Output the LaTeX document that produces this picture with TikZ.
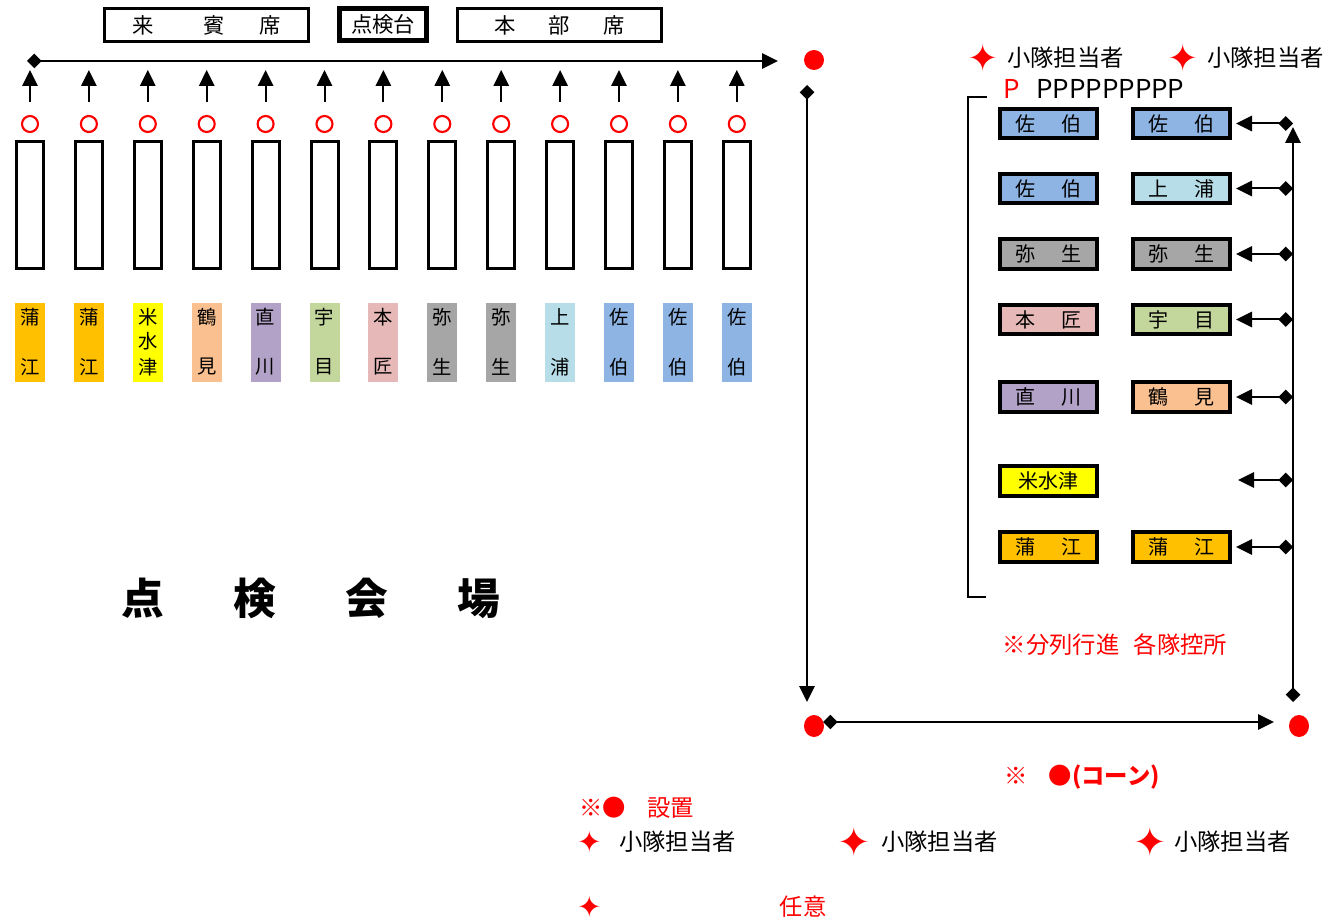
\documentclass[tikz,border=0pt]{standalone}
\usepackage{fontspec}
\setmainfont{Noto Sans CJK JP}
\newfontfamily\symf{DejaVu Sans}
\usetikzlibrary{arrows.meta,shapes.geometric}
\definecolor{cOrange}{HTML}{FFC000}
\definecolor{cYellow}{HTML}{FFFF00}
\definecolor{cPeach}{HTML}{FAC090}
\definecolor{cLav}{HTML}{B3A2C7}
\definecolor{cGreen}{HTML}{C3D69B}
\definecolor{cPink}{HTML}{E6B9B8}
\definecolor{cGray}{HTML}{A6A6A6}
\definecolor{cLBlue}{HTML}{B7DEE8}
\definecolor{cBlue}{HTML}{8EB4E3}
\begin{document}
\begin{tikzpicture}[x=0.75pt,y=-0.75pt,
  seatbox/.style={draw,line width=2.25pt,inner sep=0pt,minimum height=24.75pt,font=\fontsize{16}{16}\selectfont},
  colbox/.style={draw,line width=2.25pt,inner sep=0pt,minimum width=20.25pt,minimum height=95.25pt},
  strip/.style={inner sep=0pt,minimum width=22.5pt,minimum height=59.25pt},
  stripch/.style={inner sep=0pt,font=\fontsize{14.5}{14.5}\selectfont},
  ringm/.style={circle,draw=red,line width=1.6pt,minimum size=12pt,inner sep=0pt},
  reddot/.style={circle,fill=red,inner sep=0pt,minimum size=15pt},
  redell/.style={ellipse,fill=red,inner sep=0pt,minimum width=15pt,minimum height=16.5pt},
  tbox/.style={draw,line width=2.8pt,inner sep=0pt,minimum width=73pt,minimum height=22pt,font=\fontsize{15}{15}\selectfont},
  upar/.style={line width=1.5pt,-{Triangle[width=11.5pt,length=12pt]}},
  diar/.style={line width=1.5pt,{Diamond[width=11pt,length=11pt]}-{Triangle[width=11.5pt,length=12pt]}},
  star/.style={inner sep=0pt,text=red,font=\symf\fontsize{28}{28}\selectfont},
  lbl/.style={inner sep=0pt,font=\fontsize{17.5}{17.5}\selectfont},
  rlbl/.style={inner sep=0pt,text=red,font=\fontsize{17.5}{17.5}\selectfont}
]
\useasboundingbox (0,0) rectangle (1332,923);

% top seats
\node[seatbox,minimum width=153pt] (raihin) at (206.5,25) {来\hspace{37pt}賓\hspace{26pt}席};
\node[seatbox,line width=3.4pt,minimum width=65pt,minimum height=24pt] (tenken) at (383,24.5) {点検台};
\node[seatbox,minimum width=153pt] (honbu) at (559.5,25) {本\hspace{25pt}部\hspace{25pt}席};

% top long arrow
\coordinate (tl) at (27,61);
\coordinate (tr) at (778,61);
\draw[diar] (tl) -- (tr);
\node[reddot] (dotT) at (814,60) {};

% columns
\foreach \i/\a/\b/\c in {0/蒲/江/cOrange,1/蒲/江/cOrange,3/鶴/見/cPeach,4/直/川/cLav,5/宇/目/cGreen,6/本/匠/cPink,7/弥/生/cGray,8/弥/生/cGray,9/上/浦/cLBlue,10/佐/伯/cBlue,11/佐/伯/cBlue,12/佐/伯/cBlue}{
  \pgfmathsetmacro\cx{30+58.9*\i}
  \node[strip,fill=\c] (strip\i) at (\cx,342.5) {};
  \node[stripch] (sa\i) at (\cx,317) {\a};
  \node[stripch] (sb\i) at (\cx,367) {\b};
}
\node[strip,fill=cYellow] (strip2) at (147.8,342.5) {};
\node[stripch] (sa2) at (147.8,317) {米};
\node[stripch] (sm2) at (147.8,341.5) {水};
\node[stripch] (sb2) at (147.8,367) {津};

\foreach \i in {0,...,12}{
  \pgfmathsetmacro\cx{30+58.9*\i}
  \node[colbox] (col\i) at (\cx,205) {};
  \node[ringm] (ring\i) at (\cx,124) {};
  \coordinate (ab\i) at (\cx,102);
  \coordinate (at\i) at (\cx,70);
  \draw[upar] (ab\i) -- (at\i);
}

% big title
\node[inner sep=0pt,font=\fontsize{32}{32}\selectfont\bfseries] (kaijo) at (311,598) {点\hspace{52pt}検\hspace{52pt}会\hspace{52pt}場};

% right frame
\coordinate (lv1) at (807,85);
\coordinate (lv2) at (807,702);
\draw[diar] (lv1) -- (lv2);
\node[redell] (dotBL) at (814,726) {};
\node[redell] (dotBR) at (1299,726) {};
\coordinate (bh1) at (823,722);
\coordinate (bh2) at (1274,722);
\draw[diar] (bh1) -- (bh2);
\coordinate (rv1) at (1293,702);
\coordinate (rv2) at (1293,127);
\draw[diar] (rv1) -- (rv2);

% header
\node[star] (hs1) at (983,58) {✦};
\node[lbl,anchor=west] (ht1) at (1007,58) {小隊担当者};
\node[star] (hs2) at (1183,58) {✦};
\node[lbl,anchor=west] (ht2) at (1207,58) {小隊担当者};
\node[inner sep=0pt,text=red,font=\fontsize{19.5}{19.5}\selectfont] (pr) at (1012,89) {P};
\node[inner sep=0pt,anchor=west,font=\fontsize{19.5}{19.5}\selectfont] (pb) at (1036,89) {PPPPPPPPP};

% bracket
\draw[line width=1.5pt] (987,97) -| (968,597) -- (986,597);

% grid boxes
\foreach \r/\y/\la/\lb/\lc/\ra/\rb/\rc in {1/123.5/佐/伯/cBlue/佐/伯/cBlue,2/188.5/佐/伯/cBlue/上/浦/cLBlue,3/254/弥/生/cGray/弥/生/cGray,4/319.5/本/匠/cPink/宇/目/cGreen,5/397/直/川/cLav/鶴/見/cPeach,7/547/蒲/江/cOrange/蒲/江/cOrange}{
  \node[tbox,fill=\lc] (L\r) at (1048.5,\y) {\la\hspace{20pt}\lb};
  \node[tbox,fill=\rc] (R\r) at (1181.5,\y) {\ra\hspace{20pt}\rb};
  \coordinate (ra\r) at (1293,\y);
  \draw[diar,shorten >=3pt] (ra\r) -- (R\r.east);
}
\node[tbox,fill=cYellow] (L6) at (1048.5,481) {米水津};
\coordinate (ra6) at (1293,480);
\coordinate (re6) at (1238,480);
\draw[diar] (ra6) -- (re6);

% notes
\node[rlbl] (n1) at (1115,645) {※分列行進\hspace{11pt}各隊控所};
\node[rlbl,font=\fontsize{17.5}{17.5}\selectfont\bfseries] (n2) at (1082,777) {※\hspace{16pt}●(コーン)};
\node[rlbl,anchor=west] (n3) at (579,808) {※●\hspace{16pt}設置};
\node[star,font=\symf\fontsize{22}{22}\selectfont] (bs1) at (590,842) {✦};
\node[lbl,anchor=west] (bt1) at (619,842) {小隊担当者};
\node[star,font=\symf\fontsize{30}{30}\selectfont] (bs2) at (854,842) {✦};
\node[lbl,anchor=west] (bt2) at (881,842) {小隊担当者};
\node[star,font=\symf\fontsize{30}{30}\selectfont] (bs3) at (1150,842) {✦};
\node[lbl,anchor=west] (bt3) at (1174,842) {小隊担当者};
\node[star,font=\symf\fontsize{22}{22}\selectfont] (bs4) at (590,907) {✦};
\node[rlbl] (nini) at (803,907) {任意};
\end{tikzpicture}
\end{document}
